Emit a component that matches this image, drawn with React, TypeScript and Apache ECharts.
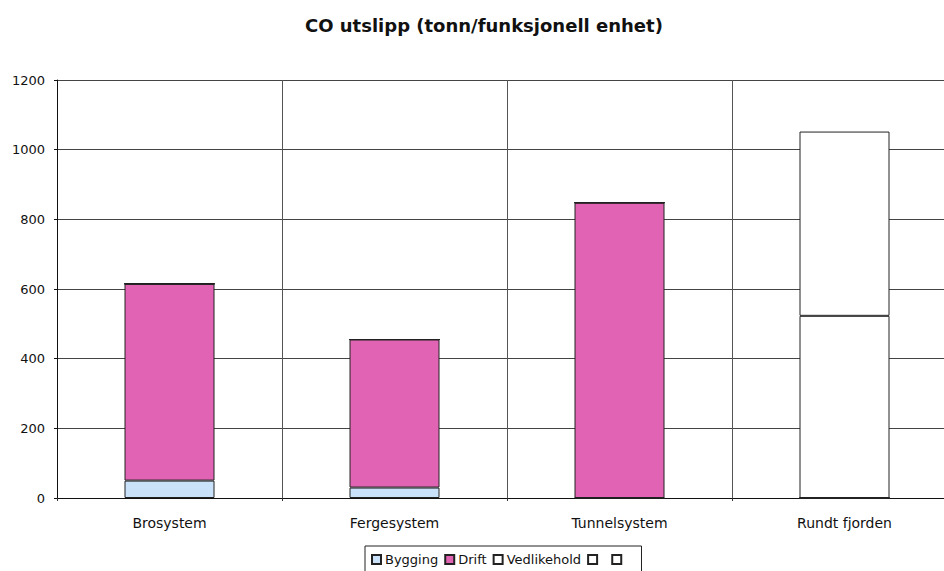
import React, { useEffect, useRef } from "react";
import * as echarts from "echarts";

const categories = ["Brosystem", "Fergesystem", "Tunnelsystem", "Rundt fjorden"];
const seriesNames = ["Bygging", "Drift", "Vedlikehold", " ", "  "];
const bygging = [50, 30, 0, 0];
const drift = [565, 425, 848, 0];
const vedlikehold = [0, 0, 0, 0];
const extraA = [0, 0, 0, 523];
const extraB = [0, 0, 0, 529];
const yTicks = [0, 200, 400, 600, 800, 1000, 1200];

const colors = ["#c9e1f9", "#e064b3", "#ffffff", "#ffffff", "#ffffff"];
const font = "DejaVu Sans, Verdana, sans-serif";

export default function App() {
  const ref = useRef<HTMLDivElement>(null);

  useEffect(() => {
    if (!ref.current) return;
    const chart = echarts.init(ref.current, undefined, { renderer: "svg" });
    const values = [bygging, drift, vedlikehold, extraA, extraB];
    chart.setOption({
      animation: false,
      backgroundColor: "#ffffff",
      textStyle: { fontFamily: font, color: "#111" },
      title: {
        text: "CO utslipp (tonn/funksjonell enhet)",
        left: 300,
        top: 11,
        textStyle: { fontSize: 18, fontWeight: "bold", color: "#111", fontFamily: font },
      },
      legend: {
        data: seriesNames,
        top: 546,
        left: 365,
        padding: [7, 8, 10, 6],
        borderColor: "#222",
        borderWidth: 1,
        itemWidth: 9,
        itemHeight: 9,
        itemGap: 6,
        textStyle: { fontSize: 13, color: "#111", fontFamily: font, padding: [0, 0, 0, -1] },
        icon: "rect",
      },
      grid: { left: 57, width: 900, top: 80, height: 418, outerBoundsMode: "none" },
      xAxis: {
        type: "category",
        data: categories,
        axisLine: { lineStyle: { color: "#111", width: 1 } },
        axisTick: { show: true, length: 3, lineStyle: { color: "#333" } },
        axisLabel: { fontSize: 14, color: "#111", margin: 18, fontFamily: font },
        splitLine: { show: true, lineStyle: { color: "#555", width: 1 } },
      },
      yAxis: {
        type: "value",
        min: yTicks[0],
        max: yTicks[yTicks.length - 1],
        interval: 200,
        axisLine: { show: true, lineStyle: { color: "#111", width: 1 } },
        axisTick: { show: true, length: 3, lineStyle: { color: "#111" } },
        axisLabel: {
          fontSize: 13,
          color: "#111",
          margin: 12,
          fontFamily: font,
          formatter: (v: number) => String(v),
        },
        splitLine: { show: true, lineStyle: { color: "#444", width: 1 } },
      },
      series: seriesNames.map((name, i) => ({
        name,
        type: "bar",
        stack: "total",
        barWidth: "40%",
        data: values[i],
        itemStyle: { color: colors[i], borderColor: "#222", borderWidth: 1 },
      })),
    });
    return () => chart.dispose();
  }, []);

  return (
    <div
      ref={ref}
      style={{ position: "fixed", left: 0, top: 0, width: 944, height: 571, background: "#fff" }}
    />
  );
}
